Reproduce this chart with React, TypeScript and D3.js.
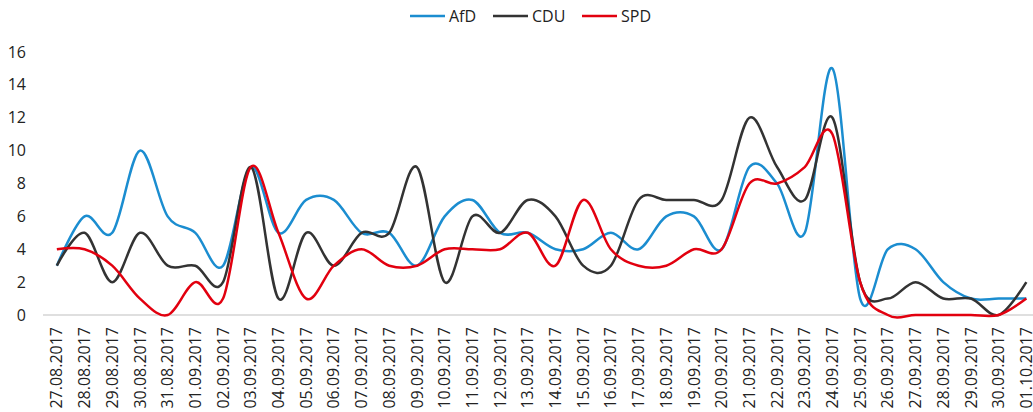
import { useEffect, useRef } from "react";
import * as d3 from "d3";

const dates = [
  "27.08.2017", "28.08.2017", "29.08.2017", "30.08.2017", "31.08.2017", "01.09.2017",
  "02.09.2017", "03.09.2017", "04.09.2017", "05.09.2017", "06.09.2017", "07.09.2017",
  "08.09.2017", "09.09.2017", "10.09.2017", "11.09.2017", "12.09.2017", "13.09.2017",
  "14.09.2017", "15.09.2017", "16.09.2017", "17.09.2017", "18.09.2017", "19.09.2017",
  "20.09.2017", "21.09.2017", "22.09.2017", "23.09.2017", "24.09.2017", "25.09.2017",
  "26.09.2017", "27.09.2017", "28.09.2017", "29.09.2017", "30.09.2017", "01.10.2017",
];

const afd = [3, 6, 5, 10, 6, 5, 3, 9, 5, 7, 7, 5, 5, 3, 6, 7, 5, 5, 4, 4, 5, 4, 6, 6, 4, 9, 8, 5, 15, 1, 4, 4, 2, 1, 1, 1];
const cdu = [3, 5, 2, 5, 3, 3, 2, 9, 1, 5, 3, 5, 5, 9, 2, 6, 5, 7, 6, 3, 3, 7, 7, 7, 7, 12, 9, 7, 12, 2, 1, 2, 1, 1, 0, 2];
const spd = [4, 4, 3, 1, 0, 2, 1, 9, 5, 1, 3, 4, 3, 3, 4, 4, 4, 5, 3, 7, 4, 3, 3, 4, 4, 8, 8, 9, 11, 2, 0, 0, 0, 0, 0, 1];

const seriesNames = ["AfD", "CDU", "SPD"];
const seriesColors = ["#1B8DD0", "#333333", "#E2000F"];
const yTicks = [0, 2, 4, 6, 8, 10, 12, 14, 16];

const W = 1033;
const H = 412;
const FONT = "'Open Sans', 'Noto Sans', sans-serif";

export default function App() {
  const ref = useRef<SVGSVGElement>(null);

  useEffect(() => {
    const svg = d3.select(ref.current);
    if (!svg.node()) return;
    svg.selectAll("*").remove();

    const x = d3.scaleBand<string>().domain(dates).range([43, 43 + dates.length * 27.7]);
    const y = d3.scaleLinear().domain([0, 16]).range([315, 52]);
    const cx = (d: string) => (x(d) ?? 0) + x.bandwidth() / 2;

    // y tick labels, no axis line
    svg
      .append("g")
      .selectAll("text")
      .data(yTicks)
      .join("text")
      .attr("x", 26)
      .attr("y", (d) => y(d))
      .attr("dy", "0.35em")
      .attr("text-anchor", "end")
      .attr("font-family", FONT)
      .attr("font-size", 16)
      .attr("fill", "#222")
      .text((d) => d);

    // x axis baseline
    svg
      .append("line")
      .attr("x1", 43)
      .attr("x2", W)
      .attr("y1", y(0))
      .attr("y2", y(0))
      .attr("stroke", "#BFBFBF")
      .attr("stroke-width", 1);

    // x tick labels rotated
    svg
      .append("g")
      .selectAll("text")
      .data(dates)
      .join("text")
      .attr("transform", (d) => `translate(${cx(d)},${y(0) + 12}) rotate(-90)`)
      .attr("dy", "0.35em")
      .attr("text-anchor", "end")
      .attr("font-family", FONT)
      .attr("font-size", 16)
      .attr("fill", "#222")
      .text((d) => d);

    const line = d3
      .line<number>()
      .x((_, i) => cx(dates[i]))
      .y((v) => y(v))
      .curve(d3.curveCardinal.tension(0));

    const all = [afd, cdu, spd];
    all.forEach((vals, k) => {
      svg
        .append("path")
        .datum(vals)
        .attr("d", line)
        .attr("fill", "none")
        .attr("stroke", seriesColors[k])
        .attr("stroke-width", 2.5)
        .attr("stroke-linejoin", "round");
    });

    // legend
    const legendX = [410, 493, 582];
    const lg = svg.append("g");
    seriesNames.forEach((name, k) => {
      lg.append("line")
        .attr("x1", legendX[k])
        .attr("x2", legendX[k] + 35)
        .attr("y1", 16)
        .attr("y2", 16)
        .attr("stroke", seriesColors[k])
        .attr("stroke-width", 2.5);
      lg.append("text")
        .attr("x", legendX[k] + 39)
        .attr("y", 16)
        .attr("dy", "0.35em")
        .attr("font-family", FONT)
        .attr("font-size", 16)
        .attr("fill", "#222")
        .text(name);
    });
  }, []);

  return (
    <svg
      ref={ref}
      width={W}
      height={H}
      style={{ position: "absolute", left: 0, top: 0, background: "#fff", display: "block" }}
    />
  );
}
